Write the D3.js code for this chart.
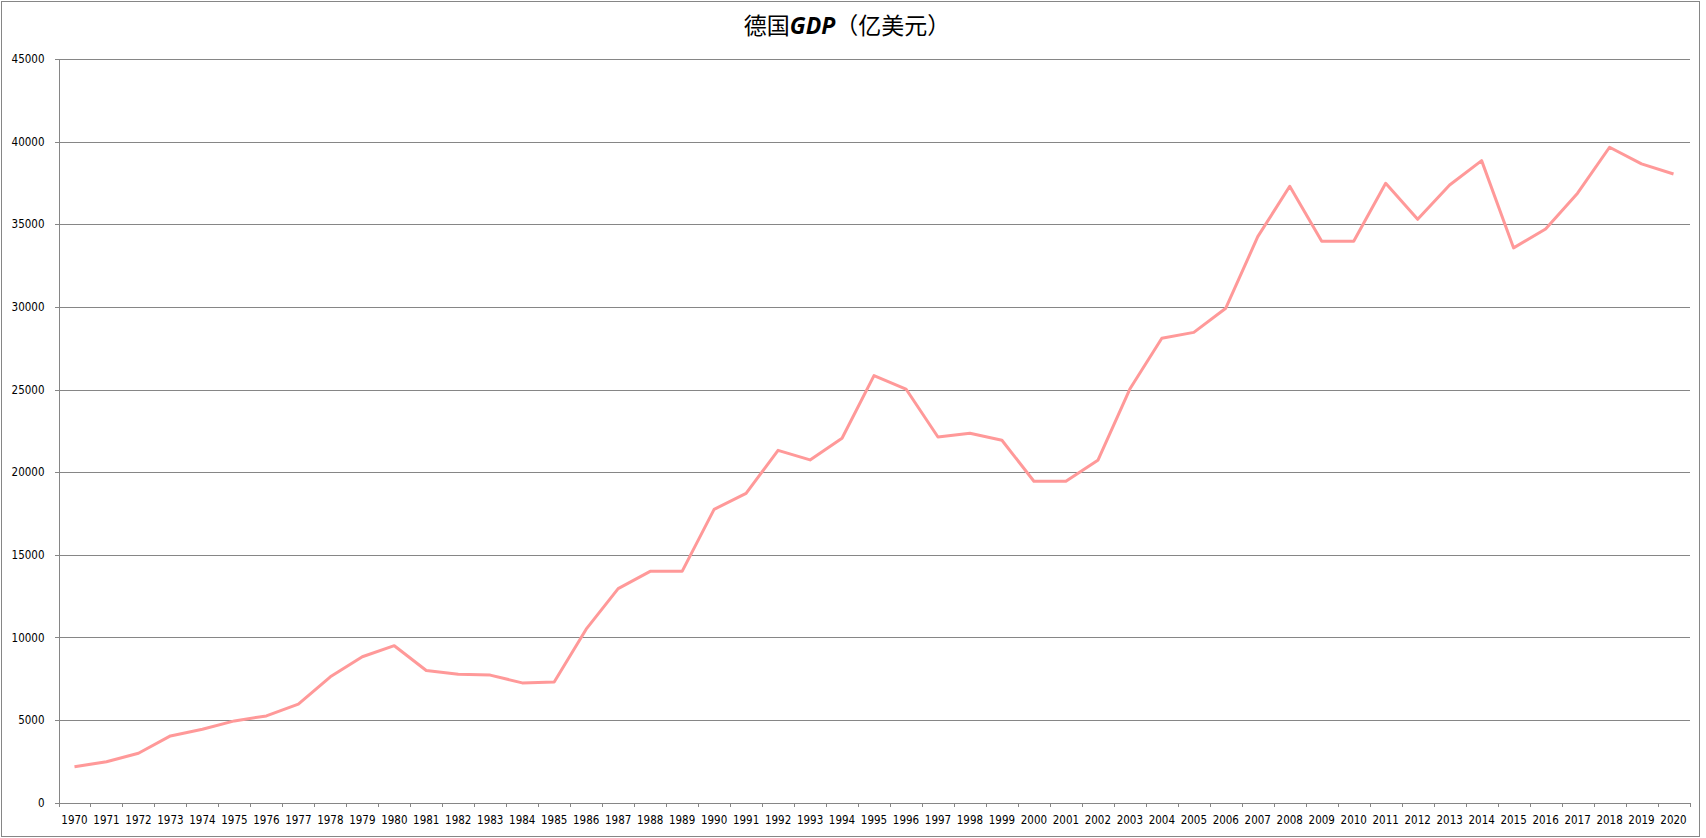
<!DOCTYPE html>
<html>
<head>
<meta charset="utf-8">
<script src="https://cdn.jsdelivr.net/npm/d3@7"></script>
<style>
  html, body { margin: 0; padding: 0; background: #fff; }
  #chart { width: 1706px; height: 838px; }
  .axis text { font-family: "DejaVu Sans Condensed", "DejaVu Sans", sans-serif; font-size: 11.5px; fill: #000; }
  .axis .domain, .axis line { stroke: #868686; }
  .grid line { stroke: #868686; }
  .grid .domain { display: none; }
</style>
</head>
<body>
<div id="chart"></div>
<script>
const years = d3.range(1970, 2021).map(String);

const gdp = [
  2180, 2480, 2990, 4040, 4440, 4950, 5250, 5970, 7620, 8830,
  9500, 8000, 7770, 7720, 7250, 7300, 10500, 12950, 14000, 14000,
  17750, 18720, 21320, 20740, 22050, 25840, 25030, 22130, 22350, 21930,
  19450, 19450, 20720, 25030, 28100, 28460, 29920, 34250, 37300, 33970,
  33970, 37480, 35300, 37380, 38850, 33570, 34710, 36880, 39660, 38650,
  38040,
];

const yTicks = [0, 5000, 10000, 15000, 20000, 25000, 30000, 35000, 40000, 45000];

const title = "德国";
const titleLatin = "GDP";
const titleTail = "（亿美元）";

const width = 1706;
const height = 838;
const margin = { top: 59, right: 16.5, bottom: 35.3, left: 58.5 };

const svg = d3
  .select("#chart")
  .append("svg")
  .attr("width", width)
  .attr("height", height)
  .attr("viewBox", [0, 0, width, height]);

// chart border
svg
  .append("rect")
  .attr("x", 1.5)
  .attr("y", 1.5)
  .attr("width", 1698)
  .attr("height", 835)
  .attr("fill", "#fff")
  .attr("stroke", "#868686");

const x = d3
  .scaleBand()
  .domain(years)
  .range([margin.left, width - margin.right])
  .padding(0);

const xEdge = d3
  .scaleLinear()
  .domain([0, years.length])
  .range([margin.left, width - margin.right]);

const y = d3
  .scaleLinear()
  .domain([0, 45000])
  .range([height - margin.bottom, margin.top]);

const plotWidth = width - margin.left - margin.right;

// horizontal gridlines
svg
  .append("g")
  .attr("class", "grid")
  .attr("transform", `translate(${margin.left},0)`)
  .call(d3.axisLeft(y).tickValues(yTicks).tickSize(-plotWidth).tickFormat(""))
  .call((g) => g.selectAll("line").attr("shape-rendering", "crispEdges"));

// y axis
svg
  .append("g")
  .attr("class", "axis")
  .attr("transform", `translate(${margin.left},0)`)
  .call(
    d3
      .axisLeft(y)
      .tickValues(yTicks)
      .tickFormat(d3.format("d"))
      .tickSize(4)
      .tickSizeOuter(0)
      .tickPadding(10)
  )
  .call((g) => g.selectAll("line, path").attr("shape-rendering", "crispEdges"));

// x axis tick marks between categories
svg
  .append("g")
  .attr("class", "axis")
  .attr("transform", `translate(0,${height - margin.bottom})`)
  .call(
    d3
      .axisBottom(xEdge)
      .tickValues(d3.range(years.length + 1))
      .tickSize(4)
      .tickSizeOuter(0)
      .tickFormat("")
  )
  .call((g) => g.selectAll("line, path").attr("shape-rendering", "crispEdges"));

// x axis labels
svg
  .append("g")
  .attr("class", "axis")
  .attr("transform", `translate(0,${height - margin.bottom})`)
  .call(d3.axisBottom(x).tickSize(0).tickPadding(13))
  .call((g) => g.select(".domain").remove());

// line
const line = d3
  .line()
  .x((d, i) => x(years[i]) + x.bandwidth() / 2)
  .y((d) => y(d));

svg
  .append("path")
  .datum(gdp)
  .attr("fill", "none")
  .attr("stroke", "#ff9999")
  .attr("stroke-width", 3)
  .attr("stroke-linejoin", "round")
  .attr("d", line);

// title
const t = svg
  .append("text")
  .attr("x", 847)
  .attr("y", 34)
  .attr("text-anchor", "middle")
  .attr("font-family", '"Noto Sans CJK SC", sans-serif')
  .attr("font-size", 23)
  .attr("fill", "#000");
t.append("tspan").text(title);
t.append("tspan")
  .attr("font-family", '"Open Sans", "DejaVu Sans", sans-serif')
  .attr("font-weight", "bold")
  .attr("font-style", "italic")
  .text(titleLatin);
t.append("tspan").text(titleTail);
</script>
</body>
</html>
